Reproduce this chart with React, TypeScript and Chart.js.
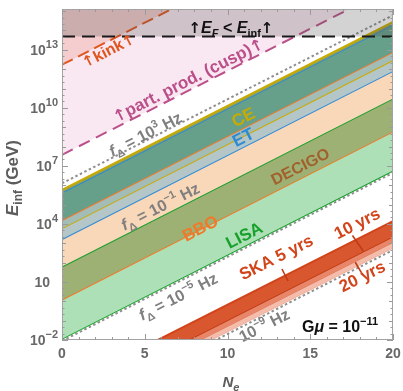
import React, { useEffect, useRef } from "react";
import { Chart, registerables } from "chart.js";

Chart.register(...registerables);

// N_e at the two ends of the plotted range
const NE = [0, 20];

// log10(E_inf / GeV) of every boundary line at N_e = 0 and at N_e = 20
const LOG_EF = [13.69, 13.69];
const LOG_KINK = [12.23, 20.92];
const LOG_PARTPROD = [7.57, 16.26];
const LOG_F_1E3 = [6.1, 14.79];
const LOG_CE_UP = [5.76, 14.45];
const LOG_ET_UP = [5.62, 14.31];
const LOG_BBO_UP = [4.2, 12.89];
const LOG_CE_LOW = [3.78, 12.47];
const LOG_ET_LOW = [3.22, 11.91];
const LOG_F_1EM1 = [2.08, 10.77];
const LOG_LISA_UP = [1.8, 10.49];
const LOG_BBO_LOW = [0.09, 8.78];
const LOG_DECIGO_LOW = [0.03, 8.72];
const LOG_LISA_LOW = [-1.93, 6.76];
const LOG_F_1EM5 = [-2.05, 6.64];
const LOG_SKA_UP = [-4.5, 4.15];
const LOG_SKA5_LOW = [-5.3, 3.35];
const LOG_SKA10_LOW = [-5.62, 3.05];
const LOG_SKA20_LOW = [-5.9, 2.77];
const LOG_F_1EM9 = [-6.03, 2.65];

// axes
const X_MIN = 0;
const X_MAX = 20;
const Y_MIN_EXP = -2;
const Y_MAX_EXP = 15.11;
const X_TICKS = [0, 5, 10, 15, 20];
const Y_TICK_EXPS = [-2, 1, 4, 7, 10, 13];

const FF = '"Liberation Sans", Arial, sans-serif';
const B = (px: number, italic = false) => `${italic ? "italic " : ""}bold ${px}px ${FF}`;
const ARW = (px: number) => `bold ${px}px "DejaVu Sans", sans-serif`;

const KINK_C = "#e0561f";
const PP_C = "#bb4f8a";
const CE_C = "#c9ab00";
const ET_C = "#2d8ad6";
const BBO_C = "#ee7b2c";
const DEC_C = "#a2602c";
const LISA_C = "#18a02c";
const SKA_C = "#d2441a";
const FLINE_C = "#8f8f8f";
const FTXT_C = "#7f7f7f";
const AX_TXT = "#686868";

type Run = { t: string; f: string; dy?: number };

function drawRuns(
  ctx: CanvasRenderingContext2D,
  runs: Run[],
  x: number,
  y: number,
  angle: number,
  color: string,
  align: "left" | "center" | "right",
  baseShift: number
) {
  ctx.save();
  ctx.translate(x, y);
  ctx.rotate(angle);
  ctx.fillStyle = color;
  ctx.textAlign = "left";
  ctx.textBaseline = "alphabetic";
  let w = 0;
  const ws = runs.map((r) => {
    ctx.font = r.f;
    const m = ctx.measureText(r.t).width;
    w += m;
    return m;
  });
  let cx = align === "center" ? -w / 2 : align === "right" ? -w : 0;
  runs.forEach((r, i) => {
    ctx.font = r.f;
    ctx.fillText(r.t, cx, baseShift + (r.dy || 0));
    cx += ws[i];
  });
  ctx.restore();
}

const fRuns = (exp: string): Run[] => [
  { t: "f", f: B(16, true) },
  { t: "Δ", f: B(11), dy: 4 },
  { t: " = 10", f: B(16) },
  { t: exp, f: B(11), dy: -7 },
  { t: " Hz", f: B(16) },
];

// in-plot annotations, anchored in data units (N_e, log10 E)
const LABELS: { runs: Run[]; n: number; l: number; color: string; rot: boolean }[] = [
  {
    runs: [{ t: "↑", f: ARW(15) }, { t: "kink", f: B(16) }, { t: "↑", f: ARW(15) }],
    n: 2.78,
    l: 13.0,
    color: KINK_C,
    rot: true,
  },
  {
    runs: [{ t: "↑", f: ARW(16) }, { t: "part. prod. (cusp)", f: B(17) }, { t: "↑", f: ARW(16) }],
    n: 7.61,
    l: 11.45,
    color: PP_C,
    rot: true,
  },
  { runs: fRuns("3"), n: 5.02, l: 8.66, color: FTXT_C, rot: true },
  { runs: [{ t: "CE", f: B(17) }], n: 10.94, l: 9.54, color: CE_C, rot: true },
  { runs: [{ t: "ET", f: B(17) }], n: 10.94, l: 8.5, color: ET_C, rot: true },
  { runs: fRuns("−1"), n: 5.92, l: 4.93, color: FTXT_C, rot: true },
  { runs: [{ t: "BBO", f: B(17) }], n: 8.34, l: 3.79, color: BBO_C, rot: true },
  { runs: [{ t: "DECIGO", f: B(16) }], n: 14.38, l: 7.0, color: DEC_C, rot: true },
  { runs: [{ t: "LISA", f: B(17) }], n: 11.0, l: 3.43, color: LISA_C, rot: true },
  { runs: fRuns("−5"), n: 7.0, l: 0.28, color: FTXT_C, rot: true },
  { runs: [{ t: "SKA 5 yrs", f: B(17) }], n: 12.93, l: 2.29, color: SKA_C, rot: true },
  { runs: [{ t: "10 yrs", f: B(17) }], n: 17.82, l: 4.05, color: SKA_C, rot: true },
  { runs: [{ t: "20 yrs", f: B(17) }], n: 18.13, l: 1.31, color: SKA_C, rot: true },
  {
    runs: [
      { t: "10", f: B(16) },
      { t: "−9", f: B(11), dy: -7 },
      { t: " Hz", f: B(16) },
    ],
    n: 12.2,
    l: -1.22,
    color: FTXT_C,
    rot: true,
  },
  {
    runs: [
      { t: "G", f: B(16) },
      { t: "μ", f: B(16, true) },
      { t: " = 10", f: B(16) },
      { t: "−11", f: B(11), dy: -7 },
    ],
    n: 16.8,
    l: -1.28,
    color: "#111",
    rot: false,
  },
  {
    runs: [
      { t: "↑", f: ARW(15) },
      { t: "E", f: B(16, true) },
      { t: "F", f: B(11, true), dy: 4 },
      { t: " < ", f: B(16) },
      { t: "E", f: B(16, true) },
      { t: "inf", f: B(11), dy: 4 },
      { t: "↑", f: ARW(15) },
    ],
    n: 10.21,
    l: 14.19,
    color: "#111",
    rot: false,
  },
];

// short leader strokes from the SKA labels to their curves: [n0, l0, n1, l1]
const SKA_LEADERS = [
  [13.29, 1.67, 13.66, 1.05],
  [17.55, 3.4, 18.2, 2.6],
  [17.72, 2.02, 18.1, 1.47],
];

const pts = (logs: number[]) => NE.map((n, i) => ({ x: n, y: Math.pow(10, logs[i]) }));

function lineDs(logs: number[], color: string, width: number, extra: any = {}) {
  return {
    data: pts(logs),
    borderColor: color,
    borderWidth: width,
    pointRadius: 0,
    fill: false,
    clip: 0,
    order: 0,
    ...extra,
  };
}

const DOT = { borderDash: [2.5, 2.5] };

function buildDatasets() {
  return [
    /*0*/ lineDs(LOG_EF, "#1a1a1a", 2, { borderDash: [13, 7], fill: "end", backgroundColor: "rgba(80,80,80,0.25)", order: -3 }),
    /*1*/ lineDs(LOG_KINK, KINK_C, 2, { borderDash: [12, 6], fill: "end", backgroundColor: "rgba(225,85,45,0.18)", order: -2 }),
    /*2*/ lineDs(LOG_PARTPROD, PP_C, 2, { borderDash: [12, 7], fill: "end", backgroundColor: "rgba(215,110,165,0.16)", order: -1 }),
    /*3*/ lineDs(LOG_F_1E3, FLINE_C, 2, DOT),
    /*4*/ lineDs(LOG_CE_UP, CE_C, 2, { fill: 5, backgroundColor: "#9aa24a" }),
    /*5*/ lineDs(LOG_ET_UP, ET_C, 2, { fill: 6, backgroundColor: "#66a08a" }),
    /*6*/ lineDs(LOG_BBO_UP, BBO_C, 2, { fill: 7, backgroundColor: "#a3bcb6" }),
    /*7*/ lineDs(LOG_CE_LOW, CE_C, 2, { fill: 8, backgroundColor: "#b4c6c8" }),
    /*8*/ lineDs(LOG_ET_LOW, ET_C, 2, { fill: 10, backgroundColor: "#f9d7b9" }),
    /*9*/ lineDs(LOG_F_1EM1, FLINE_C, 2, DOT),
    /*10*/ lineDs(LOG_LISA_UP, LISA_C, 2, { fill: 11, backgroundColor: "#9db174" }),
    /*11*/ lineDs(LOG_BBO_LOW, BBO_C, 2, { fill: 13, backgroundColor: "#ade0b7" }),
    /*12*/ lineDs(LOG_DECIGO_LOW, DEC_C, 2.5),
    /*13*/ lineDs(LOG_LISA_LOW, LISA_C, 2),
    /*14*/ lineDs(LOG_F_1EM5, FLINE_C, 2, DOT),
    /*15*/ lineDs(LOG_SKA_UP, SKA_C, 2, { fill: 16, backgroundColor: "#d9572f" }),
    /*16*/ lineDs(LOG_SKA5_LOW, "#c23a12", 1.8, { fill: 17, backgroundColor: "#e8866a" }),
    /*17*/ lineDs(LOG_SKA10_LOW, "#e27656", 1.2, { fill: 18, backgroundColor: "#f3bcab" }),
    /*18*/ lineDs(LOG_SKA20_LOW, "#eea58f", 1.2),
    /*19*/ lineDs(LOG_F_1EM9, FLINE_C, 2, DOT),
  ];
}

const decor = {
  id: "decor",
  afterDatasetsDraw(chart: any) {
    const ctx: CanvasRenderingContext2D = chart.ctx;
    const xs = chart.scales.x;
    const ys = chart.scales.y;
    const px = (n: number) => xs.getPixelForValue(n);
    const py = (l: number) => ys.getPixelForValue(Math.pow(10, l));
    const ang = Math.atan2(py(LOG_LISA_UP[1]) - py(LOG_LISA_UP[0]), px(NE[1]) - px(NE[0]));
    const { left, right, top, bottom } = chart.chartArea;

    ctx.save();
    ctx.beginPath();
    ctx.rect(left, top, right - left, bottom - top);
    ctx.clip();
    ctx.strokeStyle = "#c23a12";
    ctx.lineWidth = 1.6;
    for (const [n0, l0, n1, l1] of SKA_LEADERS) {
      ctx.beginPath();
      ctx.moveTo(px(n0), py(l0));
      ctx.lineTo(px(n1), py(l1));
      ctx.stroke();
    }
    ctx.restore();

    for (const L of LABELS) {
      drawRuns(ctx, L.runs, px(L.n), py(L.l), L.rot ? ang : 0, L.color, "center", 6);
    }

    // frame
    ctx.save();
    ctx.strokeStyle = "#a3a3a3";
    ctx.lineWidth = 1;
    ctx.strokeRect(left + 0.5, top + 0.5, right - left - 1, bottom - top - 1);
    // inward ticks
    ctx.strokeStyle = "#9a9a9a";
    ctx.beginPath();
    for (let k = Math.ceil(Y_MIN_EXP * 3); k <= Math.floor(Y_MAX_EXP * 3); k++) {
      const e = k / 3;
      const y = Math.round(py(e)) + 0.5;
      const len = k % 3 === 0 ? (Y_TICK_EXPS.includes(e) ? 6 : 4) : 2.5;
      ctx.moveTo(left, y);
      ctx.lineTo(left + len, y);
      ctx.moveTo(right, y);
      ctx.lineTo(right - len, y);
    }
    for (let n = X_MIN; n <= X_MAX; n++) {
      const x = Math.round(px(n)) + 0.5;
      const len = n % 5 === 0 ? 6 : 3;
      ctx.moveTo(x, bottom);
      ctx.lineTo(x, bottom - len);
      ctx.moveTo(x, top);
      ctx.lineTo(x, top + len);
    }
    ctx.stroke();
    ctx.restore();
  },
  afterDraw(chart: any) {
    const ctx: CanvasRenderingContext2D = chart.ctx;
    const xs = chart.scales.x;
    const ys = chart.scales.y;
    const { left, bottom } = chart.chartArea;
    // y tick labels
    for (const e of Y_TICK_EXPS) {
      const y = ys.getPixelForValue(Math.pow(10, e));
      if (e === 1) {
        drawRuns(ctx, [{ t: "10", f: B(14) }], left - 12, y, 0, AX_TXT, "right", 5);
      } else {
        const s = e < 0 ? "−" + Math.abs(e) : String(e);
        drawRuns(ctx, [{ t: "10", f: B(14) }, { t: s, f: B(11), dy: -7 }], left - 4, y, 0, AX_TXT, "right", 5);
      }
    }
    // x tick labels
    for (const n of X_TICKS) {
      drawRuns(ctx, [{ t: String(n), f: B(14) }], xs.getPixelForValue(n), bottom + 18, 0, AX_TXT, "center", 0);
    }
    // axis titles
    drawRuns(ctx, [{ t: "N", f: B(15, true) }, { t: "e", f: B(11, true), dy: 4 }], 231, 387, 0, "#5c5c5c", "center", 0);
    drawRuns(
      ctx,
      [{ t: "E", f: B(17, true) }, { t: "inf", f: B(12), dy: 4 }, { t: " (GeV)", f: B(17) }],
      18,
      178,
      -Math.PI / 2,
      "#5c5c5c",
      "center",
      0
    );
  },
};

export default function App() {
  const ref = useRef<HTMLCanvasElement>(null);
  useEffect(() => {
    const canvas = ref.current;
    if (!canvas) return;
    const chart = new Chart(canvas, {
      type: "line",
      data: { datasets: buildDatasets() as any },
      options: {
        responsive: false,
        animation: false,
        events: [],
        layout: { padding: { top: 9, right: 10, left: 0, bottom: 0 } },
        plugins: { legend: { display: false }, tooltip: { enabled: false } },
        elements: { line: { tension: 0 } },
        scales: {
          x: {
            type: "linear",
            min: X_MIN,
            max: X_MAX,
            grid: { display: false },
            border: { display: false },
            ticks: { display: false },
            afterFit: (s: any) => {
              s.height = 51;
            },
          },
          y: {
            type: "logarithmic",
            min: Math.pow(10, Y_MIN_EXP),
            max: Math.pow(10, Y_MAX_EXP),
            grid: { display: false },
            border: { display: false },
            ticks: { display: false },
            afterFit: (s: any) => {
              s.width = 62;
            },
          },
        },
      } as any,
      plugins: [decor],
    });
    return () => chart.destroy();
  }, []);
  return (
    <div style={{ position: "fixed", left: 0, top: 0, width: 403, height: 391, background: "#fff" }}>
      <canvas ref={ref} width={403} height={391} style={{ display: "block", width: 403, height: 391 }} />
    </div>
  );
}
